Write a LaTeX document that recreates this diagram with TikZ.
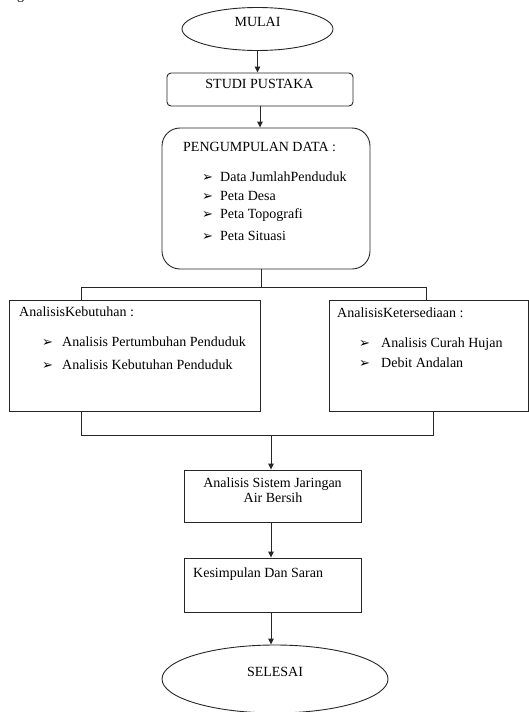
\documentclass[tikz,border=0pt]{standalone}
\usepackage{fontspec}
\setmainfont{Liberation Serif}
\newfontfamily\symfont{DejaVu Sans}
\usetikzlibrary{arrows.meta,shapes.geometric}
\begin{document}
\begin{tikzpicture}[x=1pt,y=-1pt,
  ln/.style={draw=black!85, line width=0.9pt},
  arr/.style={ln, -{Triangle[length=6pt,width=5.5pt]}},
  boxr/.style={ln, rectangle, inner sep=0pt},
  oval/.style={ln, ellipse, inner sep=0pt},
  txt/.style={font=\fontsize{14}{16}\selectfont, inner sep=0pt, anchor=base west},
  ctxt/.style={font=\fontsize{14}{16}\selectfont, inner sep=0pt, anchor=base},
  bul/.style={font=\symfont\fontsize{13}{14}\selectfont, inner sep=0pt, anchor=base west}]
\useasboundingbox (0,0) rectangle (529,712);

% fragment of cut caption
\node[txt] (frag) at (17,-1) {g};

% shapes
\node[oval, minimum width=151pt, minimum height=43pt] (mulai) at (257.5,29) {};
\node[boxr, rounded corners=4pt, minimum width=186pt, minimum height=33pt] (studi) at (260,89.5) {};
\node[boxr, rounded corners=18pt, minimum width=208pt, minimum height=141pt] (peng) at (266,198.5) {};
\node[boxr, minimum width=251pt, minimum height=111pt] (kebut) at (134.5,355.5) {};
\node[boxr, minimum width=199pt, minimum height=111pt] (keter) at (428.5,355.5) {};
\node[boxr, minimum width=177pt, minimum height=52pt] (sistem) at (273,496) {};
\node[boxr, minimum width=177pt, minimum height=54pt] (kesim) at (273,585) {};
\node[oval, minimum width=226pt, minimum height=68pt] (selesai) at (275,679) {};

% texts
\node[ctxt] (tmulai) at (257.5,27) {MULAI};
\node[ctxt] (tstudi) at (259.5,88) {STUDI PUSTAKA};
\node[txt] (tpeng) at (183,151) {PENGUMPULAN DATA :};
\node[bul] (b1) at (202,181) {➢};
\node[txt] (p1) at (220,181) {Data JumlahPenduduk};
\node[bul] (b2) at (202,200) {➢};
\node[txt] (p2) at (220,200) {Peta Desa};
\node[bul] (b3) at (202,218) {➢};
\node[txt] (p3) at (220,218) {Peta Topografi};
\node[bul] (b4) at (202,240) {➢};
\node[txt] (p4) at (220,240) {Peta Situasi};

\node[txt] (tkebut) at (19,316) {AnalisisKebutuhan :};
\node[bul] (k1) at (42,346) {➢};
\node[txt] (k1t) at (62,346) {Analisis Pertumbuhan Penduduk};
\node[bul] (k2) at (42,369) {➢};
\node[txt] (k2t) at (62,369) {Analisis Kebutuhan Penduduk};

\node[txt] (tketer) at (337,317) {AnalisisKetersediaan :};
\node[bul] (r1) at (359,347) {➢};
\node[txt] (r1t) at (381,347) {Analisis Curah Hujan};
\node[bul] (r2) at (359,367) {➢};
\node[txt] (r2t) at (381,367) {Debit Andalan};

\node[ctxt] (ts1) at (272.5,487) {Analisis Sistem Jaringan};
\node[ctxt] (ts2) at (273,502) {Air Bersih};
\node[txt] (tkesim) at (193,577) {Kesimpulan Dan Saran};
\node[ctxt] (tselesai) at (275,676) {SELESAI};

% connector coordinates
\coordinate (pj) at (261,287);
\coordinate (kl) at (81,287);
\coordinate (kr) at (426,287);
\coordinate (bl) at (81,435);
\coordinate (br) at (433,435);
\coordinate (bm) at (271,435);

% connectors
\draw[arr] (mulai.south) -- (mulai.south |- studi.north);
\draw[arr] (studi.south) -- (studi.south |- peng.north);
\draw[ln] (peng.south -| pj) -- (pj);
\draw[ln] (kebut.north -| kl) -- (kl) -- (kr) -- (keter.north -| kr);
\draw[ln] (kebut.south -| bl) -- (bl) -- (br) -- (keter.south -| br);
\draw[arr] (bm) -- (bm |- sistem.north);
\draw[arr] (sistem.south -| bm) -- (bm |- kesim.north);
\draw[arr] (kesim.south -| bm) -- (bm |- selesai.north);
\end{tikzpicture}
\end{document}
